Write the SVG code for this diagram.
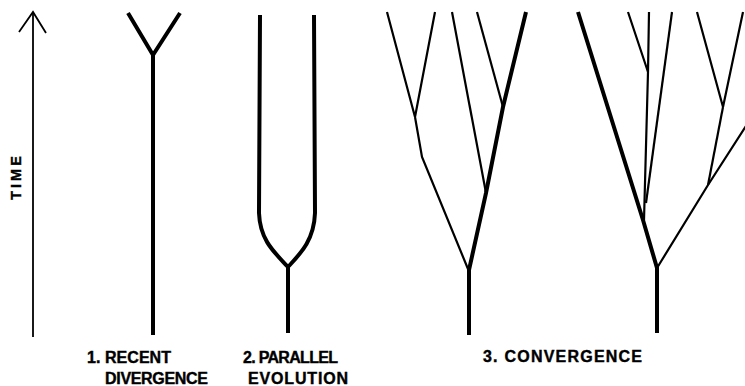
<svg xmlns="http://www.w3.org/2000/svg" width="745" height="386" viewBox="0 0 745 386">
<style>
.thick{fill:none;stroke:#000;stroke-width:4;stroke-linejoin:miter;stroke-linecap:butt}
.thin{fill:none;stroke:#000;stroke-width:2.2;stroke-linejoin:miter;stroke-linecap:butt}
.axis{fill:none;stroke:#000;stroke-width:1.8}
.lbl{font-family:"Liberation Sans",Arial,sans-serif;font-weight:bold;font-size:16px;fill:#000;stroke:#000;stroke-width:0.4}
</style>
<rect width="745" height="386" fill="#fff"/>
<g id="time-axis">
<line class="axis" x1="33" y1="13" x2="33" y2="337"/>
<polyline class="axis" points="19,32 33,12 46,33"/>
<text class="lbl" style="font-size:14.5px" transform="translate(20.5,200) rotate(-90)" textLength="44" lengthAdjust="spacing">TIME</text>
</g>
<g id="recent-divergence">
<polyline class="thick" points="128,13 153,55 180,13"/>
<line class="thick" x1="153" y1="55" x2="153" y2="335"/>
<text class="lbl" x="87" y="363" textLength="84" lengthAdjust="spacing">1. RECENT</text>
<text class="lbl" x="105" y="384" textLength="103" lengthAdjust="spacing">DIVERGENCE</text>
</g>
<g id="parallel-evolution">
<path class="thick" d="M260,15 L259,213 C260,240 274,252 288,267"/>
<path class="thick" d="M314,15 L315,213 C314,240 301,253 288,267"/>
<line class="thick" x1="288" y1="266" x2="288" y2="333"/>
<text class="lbl" x="243" y="363" textLength="95" lengthAdjust="spacing">2. PARALLEL</text>
<text class="lbl" x="248" y="384" textLength="100" lengthAdjust="spacing">EVOLUTION</text>
</g>
<g id="convergence">
<g id="tree-left">
<polyline class="thin" points="387,12 415,117 435,12"/>
<polyline class="thin" points="415,117 422,157 468,269"/>
<line class="thin" x1="452" y1="12" x2="486" y2="193"/>
<line class="thin" x1="477" y1="12" x2="503" y2="107"/>
<polyline class="thick" points="526,12 503,107 486,193 469,270"/>
<line class="thick" x1="469" y1="268" x2="469" y2="335"/>
</g>
<g id="tree-right">
<polyline class="thick" points="578,12 643,220 657,268"/>
<polyline class="thin" points="649,12 648,72 644,220"/>
<line class="thin" x1="628" y1="12" x2="648" y2="72"/>
<line class="thin" x1="672" y1="12" x2="646" y2="203"/>
<polyline class="thin" points="657,268 708,185 746,126"/>
<line class="thin" x1="708" y1="185" x2="723" y2="107"/>
<polyline class="thin" points="697,12 723,107 743,12"/>
<line class="thick" x1="657" y1="266" x2="657" y2="333"/>
</g>
<text class="lbl" x="483" y="362" textLength="159" lengthAdjust="spacing">3. CONVERGENCE</text>
</g>
</svg>
